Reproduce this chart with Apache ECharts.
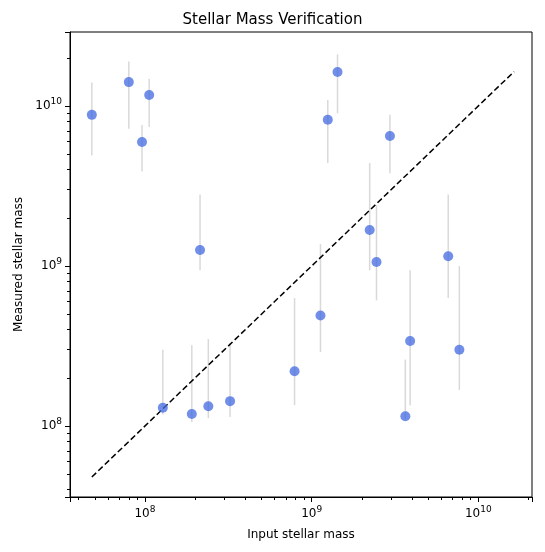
<!DOCTYPE html><html><head><meta charset="utf-8"><script src="https://cdn.jsdelivr.net/npm/echarts@6/dist/echarts.min.js"></script>
<style>html,body{margin:0;padding:0;background:#fff}#c{width:545px;height:552px}</style></head><body><div id="c"></div><script>
const inputMass=[4.8e7,8.0e7,9.6e7,1.06e8,1.28e8,1.91e8,2.14e8,2.4e8,3.24e8,7.9e8,1.13e9,1.25e9,1.43e9,2.23e9,2.45e9,2.95e9,3.65e9,3.9e9,6.6e9,7.7e9];
const measuredMass=[8.8e9,1.41e10,5.96e9,1.17e10,1.3e8,1.19e8,1.26e9,1.33e8,1.43e8,2.2e8,4.9e8,8.2e9,1.63e10,1.68e9,1.06e9,6.5e9,1.15e8,3.4e8,1.15e9,3.0e8];
const errHigh=[1.4e10,1.9e10,7.6e9,1.48e10,3.0e8,3.2e8,2.8e9,3.5e8,3.3e8,6.3e8,1.37e9,1.09e10,2.1e10,4.4e9,2.4e9,8.8e9,2.6e8,9.4e8,2.8e9,1.0e9];
const errLow=[4.9e9,7.2e9,3.9e9,7.4e9,1.18e8,1.06e8,9.4e8,1.12e8,1.14e8,1.35e8,2.9e8,4.4e9,9.0e9,9.4e8,6.1e8,3.8e9,1.1e8,1.35e8,6.3e8,1.68e8];
const lineX=[4.8e7,1.64e10];
const chart=echarts.init(document.getElementById('c'));
const sup=v=>{const e=Math.round(Math.log10(v));return Math.abs(Math.log10(v)-e)<1e-6?'10{s|'+e+'}':'';};
const lab={color:'#000',fontSize:12,fontFamily:'DejaVu Sans',formatter:sup,rich:{s:{fontSize:9,verticalAlign:'top',padding:[0,0,8,0]}}};
chart.setOption({animation:false,
title:{text:'Stellar Mass Verification',left:'center',top:8,textStyle:{fontFamily:'DejaVu Sans',fontWeight:'normal',fontSize:15,color:'#000'}},
grid:{left:70,right:13,top:32,bottom:55,show:true,borderColor:'#000',borderWidth:1},
xAxis:{type:'log',logBase:10,min:3.55e7,max:2.1e10,name:'Input stellar mass',nameLocation:'middle',nameGap:32,nameTextStyle:{fontFamily:'DejaVu Sans',fontSize:12,color:'#000'},axisLine:{lineStyle:{color:'#000'}},axisTick:{lineStyle:{color:'#000'},length:5},minorTick:{show:true,splitNumber:9,length:3,lineStyle:{color:'#000'}},splitLine:{show:false},axisLabel:lab},
yAxis:{type:'log',logBase:10,min:3.6e7,max:2.9e10,name:'Measured stellar mass',nameLocation:'middle',nameGap:45,nameTextStyle:{fontFamily:'DejaVu Sans',fontSize:12,color:'#000'},axisLine:{lineStyle:{color:'#000'}},axisTick:{lineStyle:{color:'#000'},length:5},minorTick:{show:true,splitNumber:9,length:3,lineStyle:{color:'#000'}},splitLine:{show:false},axisLabel:lab},
series:[
{type:'custom',data:inputMass.map((x,i)=>[x,errLow[i],errHigh[i]]),renderItem:(p,api)=>{const a=api.coord([api.value(0),api.value(1)]),b=api.coord([api.value(0),api.value(2)]);return{type:'line',shape:{x1:a[0],y1:a[1],x2:b[0],y2:b[1]},style:{stroke:'rgba(128,128,128,0.3)',lineWidth:1.5}};},z:1},
{type:'scatter',data:inputMass.map((x,i)=>[x,measuredMass[i]]),symbolSize:10,itemStyle:{color:'rgb(65,105,225)',opacity:0.75},z:3},
{type:'line',data:lineX.map(v=>[v,v]),symbol:'none',lineStyle:{color:'#000',type:[6,3],width:1.5},z:2}
]});
</script></body></html>
